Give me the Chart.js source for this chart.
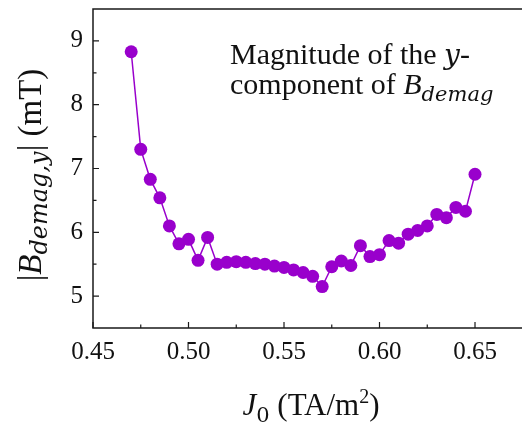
<!DOCTYPE html>
<html><head><meta charset="utf-8">
<script src="https://cdn.jsdelivr.net/npm/chart.js@4/dist/chart.umd.min.js"></script>
<style>html,body{margin:0;padding:0;background:#fff;overflow:hidden}#wrap{width:522px;height:424px;position:relative}</style>
</head><body><div id="wrap"><canvas id="c" width="522" height="424"></canvas></div>
<script>
const currentDensity = [0.470,0.475,0.480,0.485,0.490,0.495,0.500,0.505,0.510,0.515,0.520,0.525,0.530,0.535,0.540,0.545,0.550,0.555,0.560,0.565,0.570,0.575,0.580,0.585,0.590,0.595,0.600,0.605,0.610,0.615,0.620,0.625,0.630,0.635,0.640,0.645,0.650];
const bDemagY = [8.83,7.30,6.83,6.54,6.10,5.82,5.89,5.56,5.92,5.50,5.53,5.54,5.53,5.51,5.50,5.47,5.45,5.41,5.37,5.31,5.15,5.46,5.55,5.48,5.79,5.62,5.65,5.87,5.83,5.97,6.03,6.10,6.28,6.23,6.39,6.33,6.91];
const xTickValues = [0.45,0.50,0.55,0.60,0.65];
const xTickLabels = ["0.45","0.50","0.55","0.60","0.65"];
const xMinorTicks = [0.475,0.525,0.575,0.625];
const yTickValues = [5,6,7,8,9];
const yTickLabels = ["5","6","7","8","9"];
const yMinorTicks = [5.5,6.5,7.5,8.5];

const SERIF = '"Liberation Serif", "Times New Roman", serif';
const MATH = '"DejaVu Serif", serif';
const PURPLE = 'rgb(153,0,204)';

function drawRich(ctx, segs, x, y, align) {
  let total = 0;
  segs.forEach(s => { ctx.font = s.font; s.w = ctx.measureText(s.text).width; total += s.w; });
  let cx = align === 'center' ? x - total / 2 : x;
  segs.forEach(s => {
    ctx.font = s.font;
    ctx.fillText(s.text, cx, y + (s.dy || 0));
    cx += s.w;
  });
}

const framePlugin = {
  id: 'frame',
  afterDraw(chart) {
    const ctx = chart.ctx, a = chart.chartArea;
    const xs = chart.scales.x, ys = chart.scales.y;
    ctx.save();
    ctx.strokeStyle = '#1a1a1a';
    ctx.lineWidth = 1.5;
    ctx.beginPath();
    ctx.moveTo(chart.width, a.top); ctx.lineTo(a.left, a.top);
    ctx.lineTo(a.left, a.bottom); ctx.lineTo(chart.width, a.bottom);
    ctx.stroke();
    ctx.lineWidth = 1.2;
    ctx.beginPath();
    xTickValues.forEach(v => { const p = xs.getPixelForValue(v); ctx.moveTo(p, a.bottom); ctx.lineTo(p, a.bottom - 6); });
    xMinorTicks.forEach(v => { const p = xs.getPixelForValue(v); ctx.moveTo(p, a.bottom); ctx.lineTo(p, a.bottom - 3.5); });
    yTickValues.forEach(v => { const p = ys.getPixelForValue(v); ctx.moveTo(a.left, p); ctx.lineTo(a.left + 6, p); });
    yMinorTicks.forEach(v => { const p = ys.getPixelForValue(v); ctx.moveTo(a.left, p); ctx.lineTo(a.left + 3.5, p); });
    ctx.stroke();

    ctx.fillStyle = '#111';
    ctx.textBaseline = 'alphabetic';
    // x title
    drawRich(ctx, [
      {text: 'J', font: 'italic 31px ' + SERIF},
      {text: '0', font: '21px ' + MATH, dy: 7},
      {text: ' (TA/m', font: '31px ' + SERIF},
      {text: '2', font: '20px ' + SERIF, dy: -12},
      {text: ')', font: '31px ' + SERIF}
    ], 311, 415, 'center');
    // y title
    ctx.save();
    ctx.translate(41, 175);
    ctx.rotate(-Math.PI / 2);
    drawRich(ctx, [
      {text: '|', font: '33px ' + SERIF},
      {text: 'B', font: 'italic 33px ' + SERIF},
      {text: 'demag,y', font: 'italic 24px ' + MATH, dy: 6},
      {text: '| (mT)', font: '33px ' + SERIF}
    ], 0, 0, 'center');
    ctx.restore();
    // annotation
    drawRich(ctx, [
      {text: 'Magnitude of the ', font: '30px ' + SERIF},
      {text: 'y', font: 'italic 28px ' + MATH},
      {text: '-', font: '30px ' + SERIF}
    ], 230, 64, 'left');
    drawRich(ctx, [
      {text: 'component of ', font: '30px ' + SERIF},
      {text: 'B', font: 'italic 30px ' + SERIF},
      {text: 'demag', font: 'italic 21px ' + MATH, dy: 7}
    ], 230, 94, 'left');
    ctx.restore();
  }
};

new Chart(document.getElementById('c'), {
  type: 'line',
  data: {
    datasets: [{
      data: currentDensity.map((x, i) => ({x: x, y: bDemagY[i]})),
      borderColor: PURPLE,
      backgroundColor: PURPLE,
      borderWidth: 1.5,
      pointRadius: 6.5,
      pointBorderWidth: 0,
      pointBackgroundColor: PURPLE,
      tension: 0
    }]
  },
  options: {
    responsive: false,
    animation: false,
    devicePixelRatio: 1,
    layout: {padding: {top: 9, right: 0, left: 0, bottom: 0}},
    plugins: {legend: {display: false}, tooltip: {enabled: false}},
    scales: {
      x: {
        type: 'linear', min: 0.45, max: 0.6712,
        afterBuildTicks: s => { s.ticks = xTickValues.map(v => ({value: v})); },
        afterFit: s => { s.height = 96; s.paddingLeft = 0; s.paddingRight = 0; },
        grid: {display: false, drawTicks: false},
        border: {display: false},
        ticks: {
          callback: (v, i) => xTickLabels[i],
          font: {family: SERIF, size: 25}, color: '#111', padding: 9, maxRotation: 0, autoSkip: false
        }
      },
      y: {
        type: 'linear', min: 4.5, max: 9.5,
        afterBuildTicks: s => { s.ticks = yTickValues.map(v => ({value: v})); },
        afterFit: s => { s.width = 93; s.paddingTop = 0; s.paddingBottom = 0; },
        grid: {display: false, drawTicks: false},
        border: {display: false},
        ticks: {
          callback: (v, i) => yTickLabels[i],
          font: {family: SERIF, size: 25}, color: '#111', padding: 10
        }
      }
    }
  },
  plugins: [framePlugin]
});
</script>
</body></html>
